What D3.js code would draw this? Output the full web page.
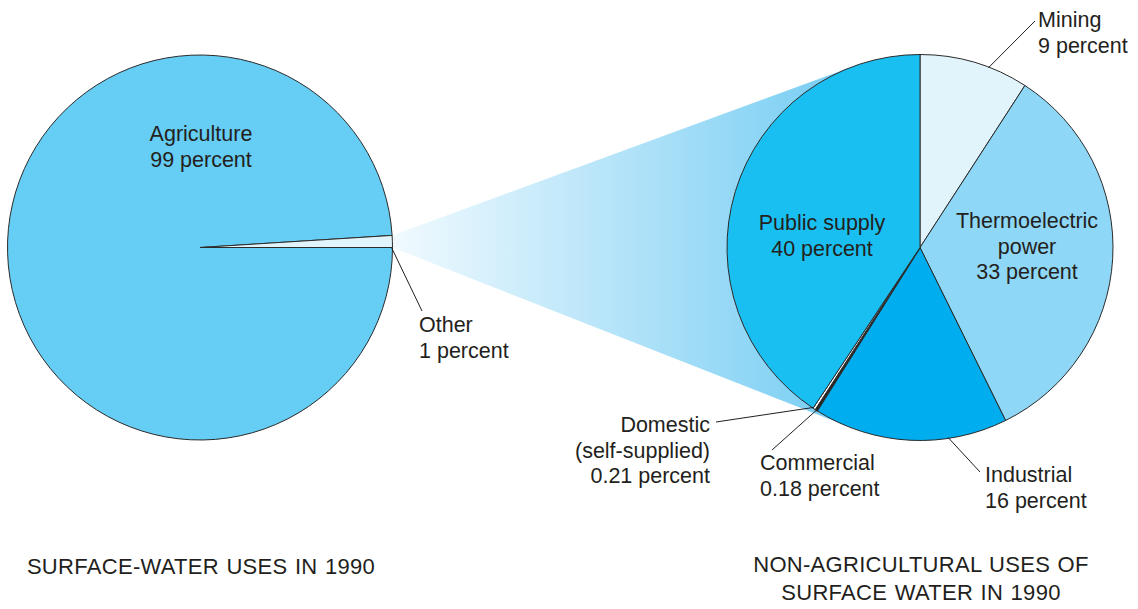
<!DOCTYPE html>
<html>
<head>
<meta charset="utf-8">
<script src="https://cdn.jsdelivr.net/npm/d3@7"></script>
<style>
  body { margin: 0; background: #fff; }
  text { font-family: "Liberation Sans", Arial, Helvetica, sans-serif; fill: #231f20; }
</style>
</head>
<body>
<svg id="chart"></svg>
<script>
// left pie: all surface-water uses
const leftCategories = ["Agriculture", "Other"];
const leftValues = [99, 1];
const leftPercentLabels = ["99 percent", "1 percent"];

// right pie: non-agricultural uses
const rightCategories = ["Mining", "Thermoelectric power", "Industrial", "Commercial", "Domestic (self-supplied)", "Public supply"];
const rightValues = [9, 33, 16, 0.18, 0.21, 40];
const rightPercentLabels = ["9 percent", "33 percent", "16 percent", "0.18 percent", "0.21 percent", "40 percent"];

const titles = [["SURFACE-WATER USES IN 1990"], ["NON-AGRICULTURAL USES OF", "SURFACE WATER IN 1990"]];

const width = 1138, height = 609;
const svg = d3.select("#chart").attr("width", width).attr("height", height);

const leftPie = { cx: 200, cy: 247.5, r: 192.5 };
const rightPie = { cx: 920, cy: 247.5, r: 193 };

const leftColor = d3.scaleOrdinal().domain(leftCategories).range(["#66cdf5", "#e1f4fb"]);
const rightColor = d3.scaleOrdinal().domain(rightCategories)
    .range(["#e1f4fb", "#8fd7f6", "#00adee", "#231f20", "#ffffff", "#19bff0"]);

const leftArcs = d3.pie().sort(null)
    .startAngle(Math.PI / 2).endAngle(Math.PI / 2 + 2 * Math.PI)(leftValues)
    .map((a, i) => ({ ...a, name: leftCategories[i], pct: leftPercentLabels[i] }));

const rightArcs = d3.pie().sort(null)(rightValues)
    .map((a, i) => ({ ...a, name: rightCategories[i], pct: rightPercentLabels[i] }));

// point on a pie's rim, d3 angle convention (0 = 12 o'clock, clockwise)
function rim(p, angle, rr) {
    const r = rr == null ? p.r : rr;
    return [p.cx + r * Math.sin(angle), p.cy - r * Math.cos(angle)];
}

// tangent from an outside point to a circle
function tangent(pt, c, side) {
    const vx = pt[0] - c.cx, vy = pt[1] - c.cy;
    const d = Math.hypot(vx, vy);
    const phi = Math.atan2(vy, vx);
    const th = Math.acos(c.r / d);
    const a = phi + side * th;
    return [c.cx + c.r * Math.cos(a), c.cy + c.r * Math.sin(a)];
}

// funnel from the "Other" slice to the right pie
const other = leftArcs[1];
const p1 = rim(leftPie, other.startAngle);
const p2 = rim(leftPie, other.endAngle);
const t1 = tangent(p1, rightPie, 1);
const t2 = tangent(p2, rightPie, -1);

const defs = svg.append("defs");
const grad = defs.append("linearGradient")
    .attr("id", "funnel")
    .attr("gradientUnits", "userSpaceOnUse")
    .attr("x1", p1[0]).attr("y1", 0)
    .attr("x2", rightPie.cx - rightPie.r * 0.55).attr("y2", 0);
grad.append("stop").attr("offset", 0).attr("stop-color", "#f1fafe");
grad.append("stop").attr("offset", 1).attr("stop-color", "#7fd0f4");

svg.append("path")
    .attr("d", d3.line()([p1, t1, [rightPie.cx, rightPie.cy], t2, p2]) + "Z")
    .attr("fill", "url(#funnel)");

const leftArc = d3.arc().innerRadius(0).outerRadius(leftPie.r);
const rightArc = d3.arc().innerRadius(0).outerRadius(rightPie.r);

svg.append("g")
    .attr("transform", `translate(${leftPie.cx},${leftPie.cy})`)
    .selectAll("path")
    .data(leftArcs)
    .join("path")
    .attr("d", leftArc)
    .attr("fill", d => leftColor(d.name))
    .attr("stroke", "#2b2b2b")
    .attr("stroke-width", 1);

svg.append("g")
    .attr("transform", `translate(${rightPie.cx},${rightPie.cy})`)
    .selectAll("path")
    .data(rightArcs)
    .join("path")
    .attr("d", rightArc)
    .attr("fill", d => rightColor(d.name))
    .attr("stroke", "#2b2b2b")
    .attr("stroke-width", d => d.name === "Commercial" ? 1.6 : 1);

// labels: position of first baseline, anchor, optional leader line
const deg = Math.PI / 180;
const labels = [
    { pie: leftPie, lines: ["Agriculture", leftPercentLabels[0]], x: 201, y: 141, anchor: "middle" },
    { pie: leftPie, lines: ["Other", leftPercentLabels[1]], x: 419, y: 332, anchor: "start",
      leader: { angle: other.endAngle, to: [422, 311] } },
    { pie: rightPie, lines: ["Mining", rightPercentLabels[0]], x: 1038, y: 27, anchor: "start",
      leader: { angle: 20.8 * deg, to: [1035, 21] } },
    { pie: rightPie, lines: ["Thermoelectric", "power", rightPercentLabels[1]], x: 1027, y: 228, anchor: "middle" },
    { pie: rightPie, lines: ["Public supply", rightPercentLabels[5]], x: 822, y: 230, anchor: "middle" },
    { pie: rightPie, lines: ["Industrial", rightPercentLabels[2]], x: 985, y: 482, anchor: "start",
      leader: { angle: 171.6 * deg, to: [980, 472] } },
    { pie: rightPie, lines: ["Commercial", rightPercentLabels[3]], x: 760, y: 470, anchor: "start",
      leader: { angle: 212.4 * deg, to: [772, 450] } },
    { pie: rightPie, lines: ["Domestic", "(self-supplied)", rightPercentLabels[4]], x: 710, y: 432, anchor: "end",
      leader: { angle: 213.6 * deg, to: [716, 422] } }
];

const lineGap = 25.5;

labels.filter(l => l.leader).forEach(l => {
    const from = rim(l.pie, l.leader.angle, l.pie.r - 1);
    svg.append("line")
        .attr("x1", from[0]).attr("y1", from[1])
        .attr("x2", l.leader.to[0]).attr("y2", l.leader.to[1])
        .attr("stroke", "#231f20")
        .attr("stroke-width", 1);
});

labels.forEach(l => {
    const t = svg.append("text")
        .attr("text-anchor", l.anchor)
        .style("font-size", "21.5px");
    l.lines.forEach((s, i) => {
        t.append("tspan").attr("x", l.x).attr("y", l.y + i * lineGap).text(s);
    });
});

// titles under each pie
[[leftPie, titles[0], 574], [rightPie, titles[1], 572]].forEach(([p, lines, y]) => {
    const t = svg.append("text")
        .attr("text-anchor", "middle")
        .style("font-size", "22px")
        .style("letter-spacing", "0.3px")
        .style("word-spacing", "1px");
    lines.forEach((s, i) => {
        t.append("tspan").attr("x", p.cx + 1).attr("y", y + i * 28).text(s);
    });
});
</script>
</body>
</html>
